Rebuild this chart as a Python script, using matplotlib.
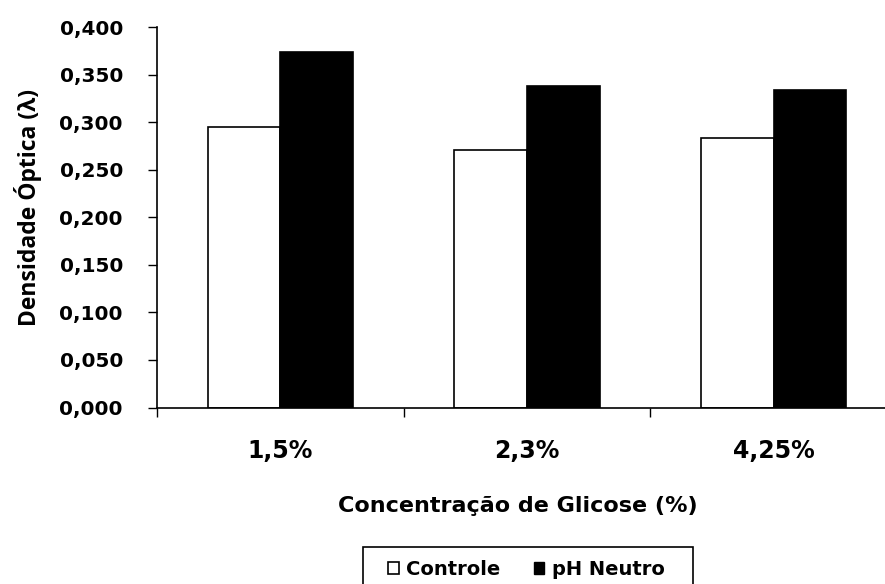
import matplotlib
matplotlib.use('Agg')
import matplotlib.pyplot as plt
from matplotlib.patches import Patch, Rectangle
from matplotlib.ticker import FuncFormatter, FixedLocator
import numpy as np

# dados
categorias = ['1,5%', '2,3%', '4,25%']
controle = [0.295, 0.271, 0.284]
ph_neutro = [0.374, 0.338, 0.334]
series = ['Controle', 'pH Neutro']

W, H = 885, 584
fig = plt.figure(figsize=(W / 100, H / 100), dpi=100)
fig.patch.set_facecolor('white')

# eixo (a direita passa um pouco da borda, como no original)
ax = fig.add_axes([157 / W, 1 - 407.5 / H, (897 - 157) / W, (407.5 - 27.3) / H])

x = np.arange(len(categorias))
largura = 0.294
ax.bar(x - largura / 2, controle, largura, color='white', edgecolor='black', linewidth=1.2)
ax.bar(x + largura / 2, ph_neutro, largura, color='black', edgecolor='black', linewidth=1.2)

ax.set_xlim(-0.5, 2.5)
ax.set_ylim(0, 0.4)
ax.set_yticks(np.arange(0, 0.401, 0.05))
ax.yaxis.set_major_formatter(FuncFormatter(lambda v, p: f'{v:.3f}'.replace('.', ',')))

# ticks nas divisões das categorias, rótulos no centro
ax.xaxis.set_major_locator(FixedLocator([-0.5, 0.5, 1.5, 2.5]))
ax.xaxis.set_major_formatter(FuncFormatter(lambda v, p: ''))
ax.xaxis.set_minor_locator(FixedLocator(x))
ax.set_xticklabels(categorias, minor=True)

ax.tick_params(axis='y', direction='out', length=6.5, width=1, pad=18,
               labelsize=14.4, colors='black')
ax.tick_params(axis='x', which='major', direction='out', length=6.5, width=1)
ax.tick_params(axis='x', which='minor', length=0, pad=23, labelsize=17)
for lbl in ax.get_yticklabels() + ax.get_xticklabels(minor=True):
    lbl.set_fontweight('bold')
    lbl.set_family('DejaVu Sans')

for s in ['top', 'right']:
    ax.spines[s].set_visible(False)
for s in ['left', 'bottom']:
    ax.spines[s].set_linewidth(1.2)
    ax.spines[s].set_color('black')

fig.text(518 / W, 1 - 512 / H, 'Concentração de Glicose (%)', ha='center', va='baseline',
         fontsize=16, fontweight='bold', family='DejaVu Sans')
fig.text(28 / W, 1 - 208 / H, 'Densidade Óptica (λ)', rotation=90, ha='center', va='center',
         fontsize=16.5, fontweight='bold', family=['Open Sans', 'DejaVu Sans'])

# legenda
handles = [Patch(facecolor='white', edgecolor='black', linewidth=1.2),
           Patch(facecolor='black', edgecolor='black')]
leg = fig.legend(handles, series, loc='lower left', bbox_to_anchor=(388 / W, 1 - 579 / H),
                 ncol=2, frameon=False, handlelength=0.55, handleheight=0.55,
                 handletextpad=0.4, columnspacing=1.7, borderpad=0, borderaxespad=0,
                 prop={'family': 'DejaVu Sans', 'weight': 'bold', 'size': 14})
fig.add_artist(Rectangle((363 / W, -0.05), 330 / W, 0.05 + (584 - 547) / H,
                         transform=fig.transFigure, fill=False, edgecolor='black', linewidth=1.2))

fig.savefig('out.png', dpi=100, facecolor='white')
